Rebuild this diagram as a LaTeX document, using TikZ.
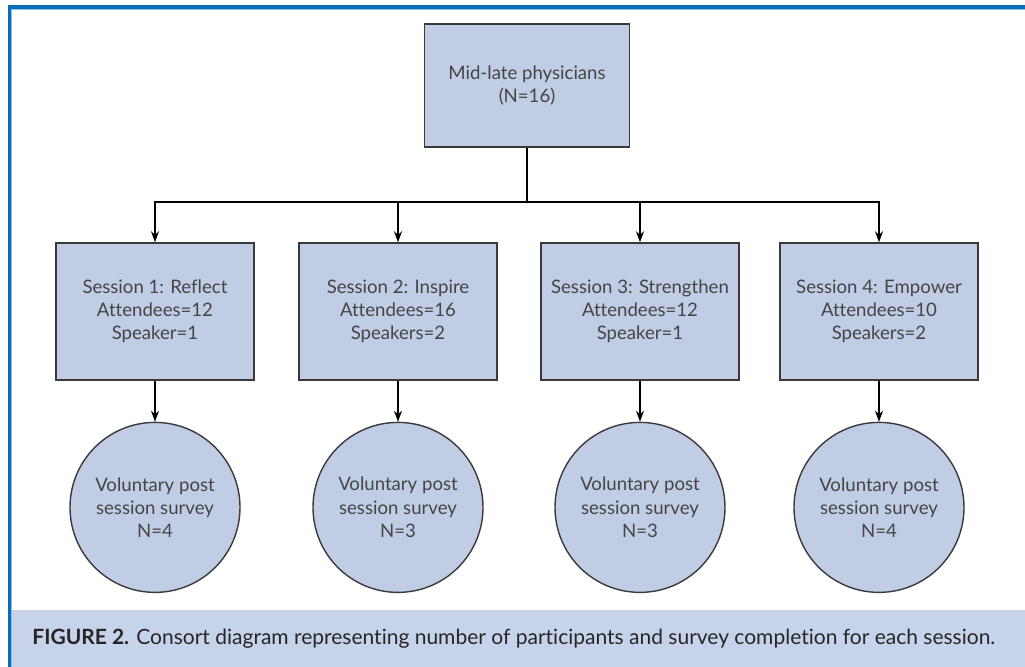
\documentclass[tikz,border=0pt]{standalone}
\usepackage{fontspec}
\setmainfont{Lato}[Ligatures={NoCommon}]
\usepackage{tikz}
\usetikzlibrary{positioning,arrows.meta}

\definecolor{frameblue}{HTML}{0A6DBA}
\definecolor{framelight}{HTML}{8EC2EA}
\definecolor{capfill}{HTML}{C7D3EA}
\definecolor{boxfill}{HTML}{C0CDE4}
\definecolor{boxline}{HTML}{3A3A3A}
\definecolor{boxtext}{HTML}{454545}

\tikzset{
  box/.style={draw=boxline,fill=boxfill,line width=0.7pt,align=center,
    text=boxtext,font=\fontsize{9.3}{11.6}\selectfont,inner sep=0pt},
  survey/.style={box,circle,minimum size=85pt},
}

\begin{document}
\begin{tikzpicture}[x=0.5pt,y=-0.5pt,>={Stealth[length=5.5pt,width=4pt]}]
      \useasboundingbox (0,0) rectangle (1025,667);
      % frame and caption bar
      \fill[framelight] (8,5) rectangle (1025,10);
      \fill[framelight] (8,5) rectangle (12,667);
      \fill[frameblue] (8,5) rectangle (1025,9);
      \fill[frameblue] (8,5) rectangle (11,667);
      \fill[capfill] (12,610) rectangle (1025,667);

      \node[box,minimum width=102.5pt,minimum height=61.5pt] (1) at (527,85.5) {Mid-late physicians\\(N=16)};
      \node[box,minimum width=99pt,minimum height=68.5pt] (2) at (155,311.5) {Session 1: Reflect\\Attendees=12\\Speaker=1};
      \node[box,minimum width=99pt,minimum height=68.5pt] (3) at (398,311.5) {Session 2: Inspire\\Attendees=16\\Speakers=2};
      \node[box,minimum width=99pt,minimum height=68.5pt] (4) at (640,311.5) {Session 3: Strengthen\\Attendees=12\\Speaker=1};
      \node[box,minimum width=99pt,minimum height=68.5pt] (5) at (879,311.5) {Session 4: Empower\\Attendees=10\\Speakers=2};

      \node[survey,below=20.5pt of 2] (6) {Voluntary post\\session survey\\N=4};
      \node[survey,below=20.5pt of 3] (7) {Voluntary post\\session survey\\N=3};
      \node[survey,below=20.5pt of 4] (8) {Voluntary post\\session survey\\N=3};
      \node[survey,below=20.5pt of 5] (9) {Voluntary post\\session survey\\N=4};

      \coordinate (c) at (527,202);
      \draw[line width=0.75pt] (1) -- (c);
      \draw[line width=0.75pt,->] (c) -| (2);
      \draw[line width=0.75pt,->] (c) -| (3);
      \draw[line width=0.75pt,->] (c) -| (4);
      \draw[line width=0.75pt,->] (c) -| (5);
      \draw[line width=0.75pt,->] (2) -- (6);
      \draw[line width=0.75pt,->] (3) -- (7);
      \draw[line width=0.75pt,->] (4) -- (8);
      \draw[line width=0.75pt,->] (5) -- (9);

      \node[anchor=west,inner sep=0pt,text=black!85,font=\fontsize{10.5}{12}\selectfont] (10) at (32,638.5)
        {\textbf{FIGURE 2.} Consort diagram representing number of participants and survey completion for each session.};
    \end{tikzpicture}
\end{document}
